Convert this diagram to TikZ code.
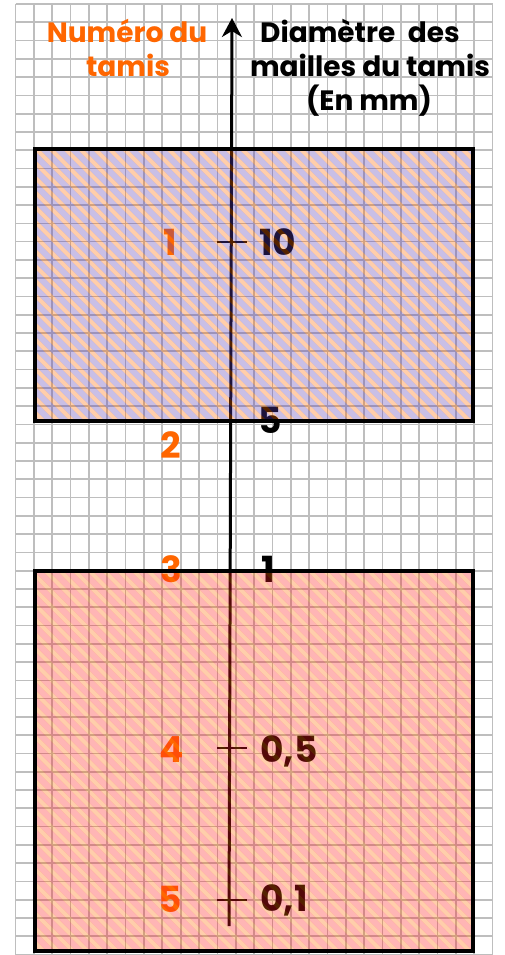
\documentclass[tikz,border=0pt]{standalone}
\usepackage{fontspec}
\setmainfont{Poppins}
\usetikzlibrary{arrows.meta}
\definecolor{tamisorange}{RGB}{255,102,0}
\definecolor{lav}{RGB}{90,60,180}
\definecolor{rosered}{RGB}{255,30,30}
\definecolor{stripecol}{RGB}{255,106,0}
\definecolor{gridgray}{RGB}{190,190,190}
\begin{document}
\begin{tikzpicture}[x=1pt,y=-1pt,
  gridline/.style={gridgray, line width=1.7pt},
  axisline/.style={line width=3pt, -{Stealth[length=19pt,width=20pt,inset=6pt]}},
  tickline/.style={line width=2pt},
  numlabel/.style={font=\fontsize{36}{40}\selectfont\bfseries, inner sep=0pt, anchor=base west},
  tamislabel/.style={font=\fontsize{36}{40}\selectfont\bfseries, text=tamisorange, inner sep=0pt, anchor=base},
  header/.style={font=\fontsize{28}{34}\selectfont\bfseries, inner sep=0pt, anchor=base},
  boxline/.style={line width=4pt}]
\useasboundingbox (0,0) rectangle (504,955);
% grid
\foreach \k in {0,...,26} \draw[gridline] ({15.5+18.35*\k},4) -- ({15.5+18.35*\k},955);
\foreach \k in {0,...,52} \draw[gridline] (15.5,{4+18.28*\k}) -- (492.6,{4+18.28*\k});
% axis
\coordinate (axbot) at (229,926);
\coordinate (axtop) at (232,18);
\draw[axisline] (axbot) -- (axtop);
% ticks
\foreach \n/\y in {a/242,b/421,c/570,d/748,e/900}{
  \coordinate (tl\n) at (217,\y);
  \coordinate (tr\n) at (247,\y);
  \draw[tickline] (tl\n) -- (tr\n);
}
% headers
\node[header, text=tamisorange] (h1) at (127,43) {Numéro du};
\node[header, text=tamisorange] (h2) at (128,77) {tamis};
\node[header] (h3) at (360,43) {Diamètre\hspace{0.45em}des};
\node[header] (h4) at (370,77) {mailles du tamis};
\node[header] (h5) at (369,111) {(En mm)};
% sieve numbers
\node[tamislabel] (n1) at (170,255) {1};
\node[tamislabel] (n2) at (171,458) {2};
\node[tamislabel] (n3) at (171,582) {3};
\node[tamislabel] (n4) at (172,762) {4};
\node[tamislabel] (n5) at (170,912) {5};
% mesh values
\node[numlabel] (v1) at (259,255) {10};
\node[numlabel] (v2) at (258,433) {5};
\node[numlabel] (v3) at (261,582) {1};
\node[numlabel] (v4) at (260,762) {0,5};
\node[numlabel] (v5) at (260,911) {0,1};
% top rectangle fill
\begin{scope}
\clip (35,149) rectangle (473,421);
\fill[lav, opacity=.33, even odd rule] (20,140) rectangle (490,430)
  \foreach \i in {0,...,52} { ({-410+14.7*\i+140},140) -- ({-404+14.7*\i+140},140) -- ({-404+14.7*\i+430},430) -- ({-410+14.7*\i+430},430) -- cycle };
\fill[stripecol, opacity=.33]
  \foreach \i in {0,...,52} { ({-410+14.7*\i+140},140) -- ({-404+14.7*\i+140},140) -- ({-404+14.7*\i+430},430) -- ({-410+14.7*\i+430},430) -- cycle };
\end{scope}
% bottom rectangle fill
\begin{scope}
\clip (35,571) rectangle (473,951);
\fill[rosered, opacity=.33, even odd rule] (20,560) rectangle (490,960)
  \foreach \i in {0,...,60} { ({-940+14.7*\i+560},560) -- ({-934+14.7*\i+560},560) -- ({-934+14.7*\i+960},960) -- ({-940+14.7*\i+960},960) -- cycle };
\fill[stripecol, opacity=.33]
  \foreach \i in {0,...,60} { ({-940+14.7*\i+560},560) -- ({-934+14.7*\i+560},560) -- ({-934+14.7*\i+960},960) -- ({-940+14.7*\i+960},960) -- cycle };
\end{scope}
% borders
\draw[boxline] (35,149) rectangle (473,421);
\draw[boxline] (35,571) rectangle (473,951);
\end{tikzpicture}
\end{document}
